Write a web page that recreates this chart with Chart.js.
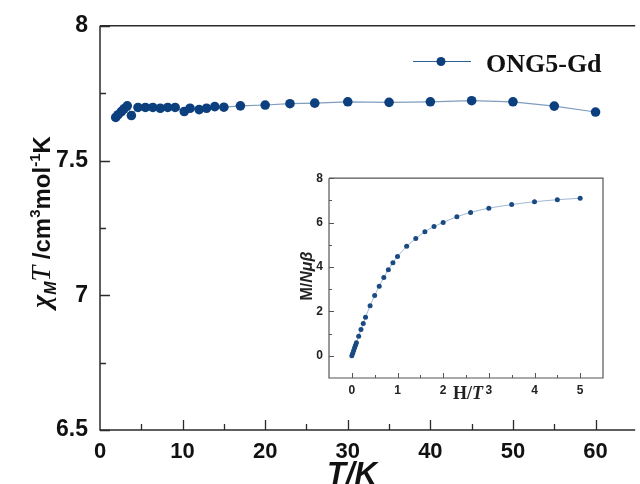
<!DOCTYPE html>
<html>
<head>
<meta charset="utf-8">
<script src="https://cdn.jsdelivr.net/npm/chart.js@4"></script>
<style>
  html, body { margin: 0; padding: 0; background: #ffffff; }
  #wrap { position: relative; width: 640px; height: 484px; overflow: hidden; background: #fff; }
  #main { position: absolute; left: 0; top: 0; }
  #inset { position: absolute; left: 290px; top: 165px; }
</style>
</head>
<body>
<div id="wrap">
  <canvas id="main" width="640" height="484"></canvas>
  <canvas id="inset" width="320" height="240"></canvas>
</div>
<script>
// ---- Main plot data: chi_M*T vs T ----
const seriesName = "ONG5-Gd";
const temperatureK = [1.9, 2.2, 2.6, 2.9, 3.3, 3.8, 4.6, 5.5, 6.4, 7.3, 8.2, 9.1, 10.2, 10.9, 12.0, 12.9, 13.9, 15.0, 17.0, 20.0, 23.0, 26.0, 30.0, 35.0, 40.0, 45.0, 50.0, 55.0, 60.0];
const chiMT = [7.660, 7.670, 7.682, 7.692, 7.703, 7.667, 7.697, 7.697, 7.697, 7.694, 7.697, 7.697, 7.682, 7.694, 7.689, 7.694, 7.700, 7.698, 7.703, 7.706, 7.711, 7.713, 7.718, 7.716, 7.718, 7.722, 7.718, 7.702, 7.680];
const mainXTicks = [0, 10, 20, 30, 40, 50, 60];
const mainXMinor = [5, 15, 25, 35, 45, 55];
const mainYTicks = [6.5, 7, 7.5, 8];
const mainYMinor = [6.75, 7.25, 7.75];

// ---- Inset data: M/Nmu_beta vs H/T ----
const fieldOverT = [0, 0.02, 0.04, 0.06, 0.08, 0.1, 0.15, 0.2, 0.25, 0.3, 0.4, 0.5, 0.6, 0.7, 0.8, 0.9, 1.0, 1.2, 1.4, 1.6, 1.8, 2.0, 2.3, 2.6, 3.0, 3.5, 4.0, 4.5, 5.0];
const magnetization = [0, 0.12, 0.24, 0.36, 0.47, 0.59, 0.88, 1.18, 1.46, 1.74, 2.25, 2.72, 3.13, 3.53, 3.88, 4.19, 4.47, 4.93, 5.28, 5.59, 5.82, 6.01, 6.26, 6.46, 6.65, 6.81, 6.94, 7.03, 7.10];
const insetXTicks = [0, 1, 2, 3, 4, 5];
const insetXMinor = [0.5, 1.5, 2.5, 3.5, 4.5];
const insetYTicks = [0, 2, 4, 6, 8];
const insetYMinor = [1, 3, 5, 7];

const SANS = "'Liberation Sans', Arial, sans-serif";
const SERIF = "'Liberation Serif', 'Times New Roman', serif";
const MARKER = '#0c3f7d';
const LINE = '#7f9dbd';
const AXIS = '#2b2b2b';

function drawRich(ctx, segs, cx, cy, rot) {
  ctx.save();
  ctx.translate(cx, cy);
  ctx.rotate(rot);
  let total = 0;
  segs.forEach(s => { ctx.font = s.f; s.w = ctx.measureText(s.t).width; total += s.w; });
  let x = -total / 2;
  ctx.textAlign = 'left';
  ctx.textBaseline = 'alphabetic';
  segs.forEach(s => { ctx.font = s.f; ctx.fillText(s.t, x, s.dy || 0); x += s.w; });
  ctx.restore();
}

function tickPlugin(id, cfg) {
  return {
    id: id,
    afterDraw(chart) {
      const ctx = chart.ctx;
      const xs = chart.scales.x, ys = chart.scales.y;
      const a = chart.chartArea;
      ctx.save();
      ctx.strokeStyle = cfg.color;
      ctx.lineWidth = cfg.lw;
      ctx.beginPath();
      cfg.xMajor.forEach(v => { const p = Math.round(xs.getPixelForValue(v)) + 0.5; ctx.moveTo(p, a.bottom); ctx.lineTo(p, a.bottom - cfg.major); });
      cfg.xMinor.forEach(v => { const p = Math.round(xs.getPixelForValue(v)) + 0.5; ctx.moveTo(p, a.bottom); ctx.lineTo(p, a.bottom - cfg.minor); });
      cfg.yMajor.forEach(v => { const p = Math.round(ys.getPixelForValue(v)) + 0.5; ctx.moveTo(a.left, p); ctx.lineTo(a.left + cfg.major, p); });
      cfg.yMinor.forEach(v => { const p = Math.round(ys.getPixelForValue(v)) + 0.5; ctx.moveTo(a.left, p); ctx.lineTo(a.left + cfg.minor, p); });
      ctx.stroke();
      // frame
      ctx.lineWidth = cfg.frameLw;
      ctx.beginPath();
      ctx.moveTo(a.left, a.top); ctx.lineTo(a.left, a.bottom); ctx.lineTo(a.right, a.bottom);
      if (cfg.box) { ctx.lineTo(a.right, a.top); ctx.lineTo(a.left, a.top); }
      else { ctx.moveTo(a.left, a.top); ctx.lineTo(a.right, a.top); }
      ctx.stroke();
      ctx.restore();
      if (cfg.extra) cfg.extra(chart, ctx);
    }
  };
}

// ---- Main chart ----
new Chart(document.getElementById('main'), {
  type: 'line',
  data: {
    datasets: [{
      label: seriesName,
      data: temperatureK.map((t, i) => ({ x: t, y: chiMT[i] })),
      borderColor: LINE,
      borderWidth: 1.2,
      pointBackgroundColor: MARKER,
      pointBorderColor: MARKER,
      pointRadius: 4.8,
      pointBorderWidth: 0,
      tension: 0,
      clip: false
    }]
  },
  options: {
    responsive: false,
    animation: false,
    devicePixelRatio: 1,
    layout: { padding: { top: 24, right: 0, left: 0, bottom: 0 } },
    plugins: { legend: { display: false }, tooltip: { enabled: false } },
    scales: {
      x: {
        type: 'linear', min: 0, max: 64.8,
        afterBuildTicks: s => { s.ticks = mainXTicks.map(v => ({ value: v })); },
        afterFit: s => { s.height = 54; },
        grid: { display: false, drawTicks: false },
        border: { display: false },
        ticks: { color: '#111', font: { family: SANS, size: 22, weight: 'bold' }, padding: 9, maxRotation: 0, autoSkip: false }
      },
      y: {
        type: 'linear', min: 6.5, max: 8,
        afterBuildTicks: s => { s.ticks = mainYTicks.map(v => ({ value: v })); },
        afterFit: s => { s.width = 100; },
        grid: { display: false, drawTicks: false },
        border: { display: false },
        ticks: { color: '#111', font: { family: SANS, size: 23, weight: 'bold' }, padding: 12, callback: v => String(v) }
      }
    }
  },
  plugins: [tickPlugin('mainTicks', {
    color: AXIS, lw: 1.3, frameLw: 1.5, major: 10, minor: 6, box: false,
    xMajor: mainXTicks.slice(1), xMinor: mainXMinor, yMajor: mainYTicks.slice(0), yMinor: mainYMinor,
    extra: (chart, ctx) => {
      ctx.save();
      ctx.fillStyle = '#111';
      // y title
      drawRich(ctx, [
        { t: 'χ', f: "italic bold 28px " + SERIF },
        { t: 'M', f: "italic bold 16px " + SANS, dy: 6 },
        { t: 'T', f: "italic 28px " + SERIF },
        { t: ' /cm', f: "bold 24px " + SANS },
        { t: '3', f: "bold 15px " + SANS, dy: -10 },
        { t: 'mol', f: "bold 24px " + SANS },
        { t: '-1', f: "bold 15px " + SANS, dy: -10 },
        { t: 'K', f: "bold 24px " + SANS }
      ], 50, 222, -Math.PI / 2);
      // x title
      drawRich(ctx, [{ t: 'T/K', f: "italic bold 31px " + SANS }], 352, 484, 0);
      // legend
      ctx.strokeStyle = '#2f5f96';
      ctx.lineWidth = 1.2;
      ctx.beginPath(); ctx.moveTo(413, 61.5); ctx.lineTo(471, 61.5); ctx.stroke();
      ctx.fillStyle = MARKER;
      ctx.beginPath(); ctx.arc(441, 61.5, 4.5, 0, Math.PI * 2); ctx.fill();
      ctx.fillStyle = '#111';
      ctx.font = "bold 26px " + SERIF;
      ctx.textAlign = 'left'; ctx.textBaseline = 'alphabetic';
      ctx.fillText(seriesName, 486, 72);
      ctx.restore();
    }
  })]
});

// ---- Inset chart ----
new Chart(document.getElementById('inset'), {
  type: 'line',
  data: {
    datasets: [{
      label: 'M/Nμβ',
      data: fieldOverT.map((h, i) => ({ x: h, y: magnetization[i] })),
      borderColor: '#9db7d3',
      borderWidth: 1,
      pointBackgroundColor: '#1a4a82',
      pointBorderColor: '#1a4a82',
      pointRadius: 2.5,
      pointBorderWidth: 0,
      tension: 0.3,
      cubicInterpolationMode: 'monotone'
    }]
  },
  options: {
    responsive: false,
    animation: false,
    devicePixelRatio: 1,
    layout: { padding: { top: 8, right: 7, left: 0, bottom: 0 } },
    plugins: { legend: { display: false }, tooltip: { enabled: false } },
    scales: {
      x: {
        type: 'linear', min: -0.5, max: 5.5,
        afterBuildTicks: s => { s.ticks = insetXTicks.map(v => ({ value: v })); },
        afterFit: s => { s.height = 27; },
        grid: { display: false, drawTicks: false },
        border: { display: false },
        ticks: { color: '#222', font: { family: SANS, size: 12, weight: 'bold' }, padding: 5, maxRotation: 0, autoSkip: false }
      },
      y: {
        type: 'linear', min: -1, max: 8,
        afterBuildTicks: s => { s.ticks = insetYTicks.map(v => ({ value: v })); },
        afterFit: s => { s.width = 39; },
        grid: { display: false, drawTicks: false },
        border: { display: false },
        ticks: { color: '#222', font: { family: SANS, size: 12, weight: 'bold' }, padding: 6 }
      }
    }
  },
  plugins: [tickPlugin('insetTicks', {
    color: '#555', lw: 1, frameLw: 1.2, major: 5, minor: 3, box: true,
    xMajor: insetXTicks, xMinor: insetXMinor, yMajor: insetYTicks, yMinor: insetYMinor,
    extra: (chart, ctx) => {
      ctx.save();
      ctx.fillStyle = '#222';
      drawRich(ctx, [
        { t: 'M/', f: "bold 16px " + SANS },
        { t: 'Nμβ', f: "italic bold 16px " + SANS }
      ], 22, 111, -Math.PI / 2);
      drawRich(ctx, [
        { t: 'H/', f: "bold 18px " + SERIF },
        { t: 'T', f: "italic bold 18px " + SERIF }
      ], 178, 234, 0);
      ctx.restore();
    }
  })]
});
</script>
</body>
</html>
